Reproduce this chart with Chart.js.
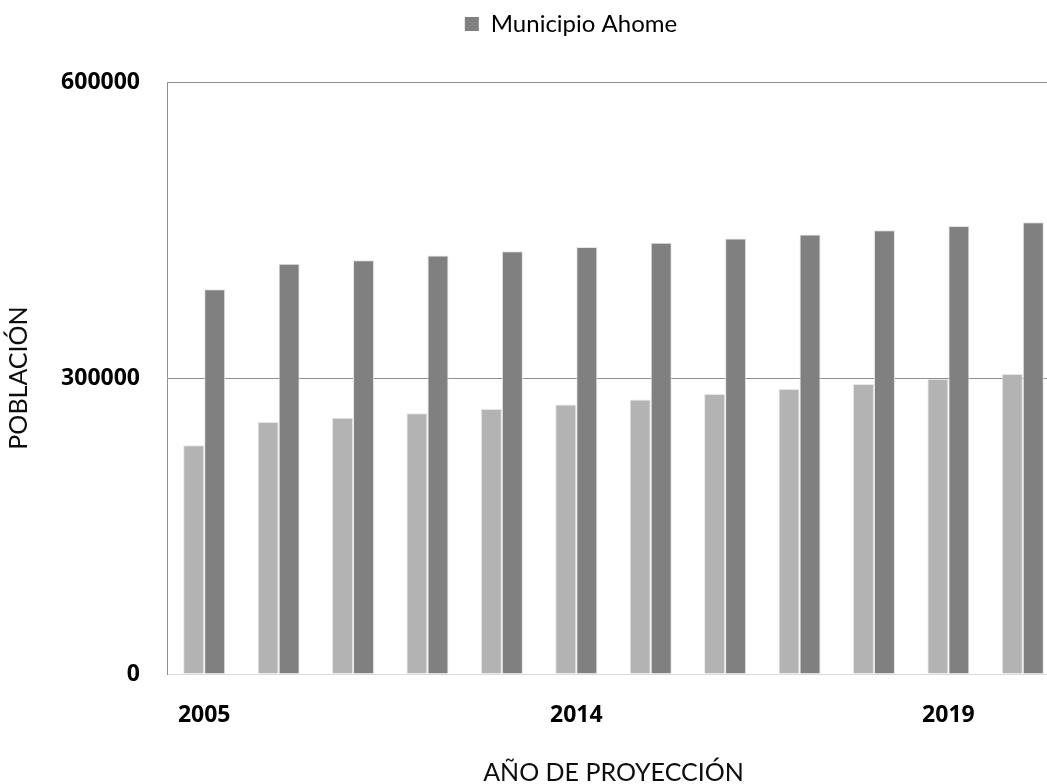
<!DOCTYPE html>
<html>
<head>
<meta charset="utf-8">
<title>Proyección de población</title>
<script src="https://cdn.jsdelivr.net/npm/chart.js@4.4.0/dist/chart.umd.min.js"></script>
<style>
  html, body { margin: 0; padding: 0; background: #ffffff; overflow: hidden; }
  #wrap { width: 1047px; height: 784px; overflow: hidden; position: relative; }
  canvas { display: block; }
</style>
</head>
<body>
<div id="wrap"><canvas id="chart" width="1062" height="784"></canvas></div>
<script>
// Años de proyección (categorías del eje X)
const years = ['2005', '2010', '2011', '2012', '2013', '2014', '2015', '2016', '2017', '2018', '2019', '2020'];
// Años que llevan rótulo en el eje X
const labeledYears = ['2005', '2014', '2019'];
// Marcas del eje Y
const yTicks = [0, 300000, 600000];

// Población de la cabecera municipal
const cabeceraValues = [231800, 255400, 259800, 264200, 268600, 273100, 278200, 283800, 288900, 293900, 299000, 304000];
// Población del municipio de Ahome
const municipioValues = [389900, 415900, 419300, 424200, 428400, 432800, 437000, 441300, 445500, 449700, 454100, 457800];

const seriesNames = ['Cabecera municipal', 'Municipio Ahome'];
const seriesColors = ['#b3b3b3', '#808080'];

const FONT = 'Lato, "Open Sans", "DejaVu Sans", sans-serif';
const TICK_FONT = '"Open Sans", Lato, "DejaVu Sans", sans-serif';

// Separación extra bajo la leyenda y desplazamiento horizontal de la misma
const legendTweaks = {
  id: 'legendTweaks',
  afterInit(chart) {
    const lg = chart.legend;
    if (!lg) return;
    const fit = lg.fit.bind(lg);
    lg.fit = function () { fit(); this.height += 36; };
  },
  afterLayout(chart) {
    const lg = chart.legend;
    if (!lg) return;
    lg.left += 41;
    lg.right += 41;
  }
};

new Chart(document.getElementById('chart'), {
  type: 'bar',
  data: {
    labels: years,
    datasets: [
      {
        label: seriesNames[0],
        data: cabeceraValues,
        backgroundColor: seriesColors[0],
        borderColor: '#e6e6e6',
        borderWidth: 1
      },
      {
        label: seriesNames[1],
        data: municipioValues,
        backgroundColor: seriesColors[1],
        borderColor: '#e6e6e6',
        borderWidth: 1
      }
    ]
  },
  options: {
    responsive: false,
    animation: false,
    devicePixelRatio: 1,
    layout: { padding: { top: 2, right: 2, bottom: 0, left: 0 } },
    datasets: {
      bar: { categoryPercentage: 0.565, barPercentage: 1.0 }
    },
    plugins: {
      legend: {
        position: 'top',
        labels: {
          filter: (item) => item.datasetIndex === 1,
          boxWidth: 14,
          boxHeight: 14,
          padding: 10,
          color: '#0d0d0d',
          font: { family: FONT, size: 24 },
          generateLabels: (chart) => chart.data.datasets.map((ds, i) => ({
            text: ds.label,
            fillStyle: ds.backgroundColor,
            strokeStyle: ds.backgroundColor,
            lineWidth: 0,
            datasetIndex: i,
            hidden: false
          }))
        }
      },
      tooltip: { enabled: false }
    },
    scales: {
      x: {
        grid: { display: false, drawTicks: false },
        border: { display: true, color: '#d9d9d9', width: 1 },
        ticks: {
          autoSkip: false,
          maxRotation: 0,
          padding: 28,
          color: '#000000',
          font: { family: TICK_FONT, size: 23, weight: 'bold' },
          callback: function (value) {
            const lbl = this.getLabelForValue(value);
            return labeledYears.includes(lbl) ? lbl : '';
          }
        },
        title: {
          display: true,
          text: 'AÑO DE PROYECCIÓN',
          color: '#0d0d0d',
          font: { family: FONT, size: 25 },
          padding: { top: 0, bottom: -4 }
        },
        afterFit: (scale) => { scale.height = 110; }
      },
      y: {
        min: 0,
        max: 600000,
        grid: {
          drawTicks: false,
          lineWidth: 1,
          color: (ctx) => (ctx.tick && ctx.tick.value === 0 ? 'rgba(0,0,0,0)' : '#8f8f8f')
        },
        border: { display: true, color: '#8f8f8f', width: 1 },
        afterBuildTicks: (scale) => { scale.ticks = yTicks.map((v) => ({ value: v })); },
        ticks: {
          padding: 27,
          color: '#000000',
          font: { family: TICK_FONT, size: 23, weight: 'bold' },
          callback: (value) => String(value)
        },
        title: {
          display: true,
          text: 'POBLACIÓN',
          color: '#0d0d0d',
          font: { family: FONT, size: 25 },
          padding: { top: 4, bottom: 0 }
        },
        afterFit: (scale) => { scale.width = 167; }
      }
    }
  },
  plugins: [legendTweaks]
});
</script>
</body>
</html>
